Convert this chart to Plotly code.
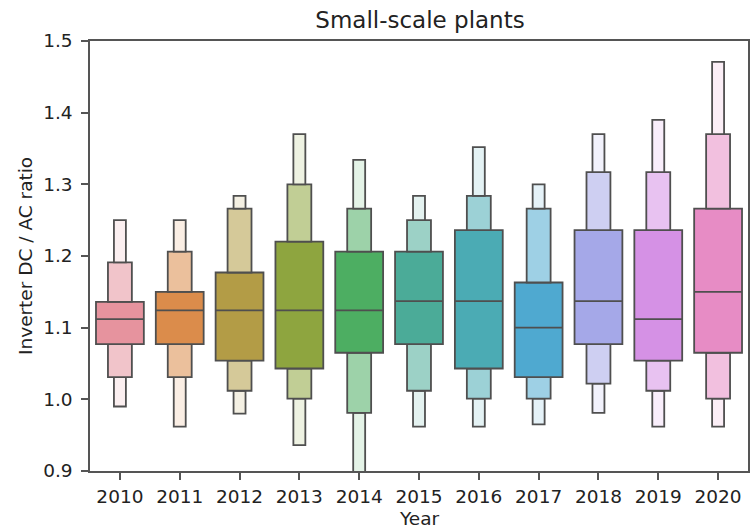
import plotly.graph_objects as go

# Letter-value summary of inverter DC/AC ratio per installation year
years = ["2010", "2011", "2012", "2013", "2014", "2015", "2016", "2017", "2018", "2019", "2020"]
outer_low = [0.990, 0.962, 0.980, 0.936, 0.860, 0.962, 0.962, 0.965, 0.981, 0.962, 0.962]
second_low = [1.031, 1.031, 1.012, 1.001, 0.981, 1.012, 1.001, 1.001, 1.022, 1.012, 1.001]
q25 = [1.077, 1.077, 1.054, 1.043, 1.065, 1.077, 1.043, 1.031, 1.077, 1.054, 1.065]
median = [1.112, 1.124, 1.124, 1.124, 1.124, 1.137, 1.137, 1.100, 1.137, 1.112, 1.150]
q75 = [1.136, 1.150, 1.177, 1.220, 1.206, 1.206, 1.236, 1.163, 1.236, 1.236, 1.266]
second_high = [1.191, 1.206, 1.266, 1.300, 1.266, 1.250, 1.284, 1.266, 1.317, 1.317, 1.370]
outer_high = [1.250, 1.250, 1.284, 1.370, 1.334, 1.284, 1.352, 1.300, 1.370, 1.390, 1.471]

base_colors = ["#e6939e", "#db8c4b", "#b39c46", "#8ea53f", "#4dae62", "#4bab98",
               "#4babb4", "#4fa9d0", "#a5a8e8", "#d591e5", "#e78cc5"]

EDGE = "#4f4f4f"
TEXT = "#222222"
FONT = "DejaVu Sans"


def lighten(hex_color, frac):
    h = hex_color.lstrip("#")
    r, g, b = (int(h[i:i + 2], 16) for i in (0, 2, 4))
    mix = lambda c: round(c + (255 - c) * frac)
    return "#{:02x}{:02x}{:02x}".format(mix(r), mix(g), mix(b))


pos = list(range(len(years)))
fig = go.Figure()

# (lower bound, upper bound, box width, lightening toward white)
levels = [
    (outer_low, second_low, 0.2, 0.85),
    (second_low, q25, 0.4, 0.45),
    (q25, q75, 0.8, 0.0),
    (q75, second_high, 0.4, 0.45),
    (second_high, outer_high, 0.2, 0.85),
]
for lo, hi, w, frac in levels:
    fig.add_trace(go.Bar(
        x=pos,
        y=[h - l for l, h in zip(lo, hi)],
        base=lo,
        width=w,
        marker=dict(color=[lighten(c, frac) for c in base_colors],
                    line=dict(color=EDGE, width=1.8)),
        showlegend=False,
        hoverinfo="skip",
    ))

# Median lines across the central box
mx, my = [], []
for i, m in zip(pos, median):
    mx += [i - 0.4, i + 0.4, None]
    my += [m, m, None]
fig.add_trace(go.Scatter(x=mx, y=my, mode="lines",
                         line=dict(color=EDGE, width=1.8),
                         showlegend=False, hoverinfo="skip"))

axis_common = dict(
    showline=True, mirror=True, linecolor="#555555", linewidth=1.5,
    ticks="outside", ticklen=7, tickwidth=1.5, tickcolor="#555555",
    showgrid=False, zeroline=False,
    tickfont=dict(family=FONT, size=18.5, color=TEXT),
)

fig.update_layout(
    width=751, height=532,
    margin=dict(l=90, r=1, t=41, b=61),
    paper_bgcolor="white", plot_bgcolor="white",
    barmode="overlay",
    title=dict(text="Small-scale plants", x=420 / 751, xanchor="center",
               y=1 - 20 / 532, yanchor="middle", yref="container",
               font=dict(family=FONT, size=23, color=TEXT)),
    xaxis=dict(range=[-0.5, 10.5], tickvals=pos, ticktext=years,
               ticklabelstandoff=1, **axis_common),
    yaxis=dict(range=[0.9, 1.5], tickvals=[0.9, 1.0, 1.1, 1.2, 1.3, 1.4, 1.5],
               tickformat=".1f", ticklabelstandoff=5, **axis_common),
    annotations=[
        dict(text="Year", xref="paper", yref="paper", x=0.5, y=0,
             xanchor="center", yanchor="middle", yshift=-47, showarrow=False,
             font=dict(family=FONT, size=18.5, color=TEXT)),
        dict(text="Inverter DC / AC ratio", xref="paper", yref="paper", x=0, y=0.5,
             xanchor="center", yanchor="middle", xshift=-65, textangle=-90,
             showarrow=False, font=dict(family=FONT, size=18.5, color=TEXT)),
    ],
)

fig.write_html("out.html")
